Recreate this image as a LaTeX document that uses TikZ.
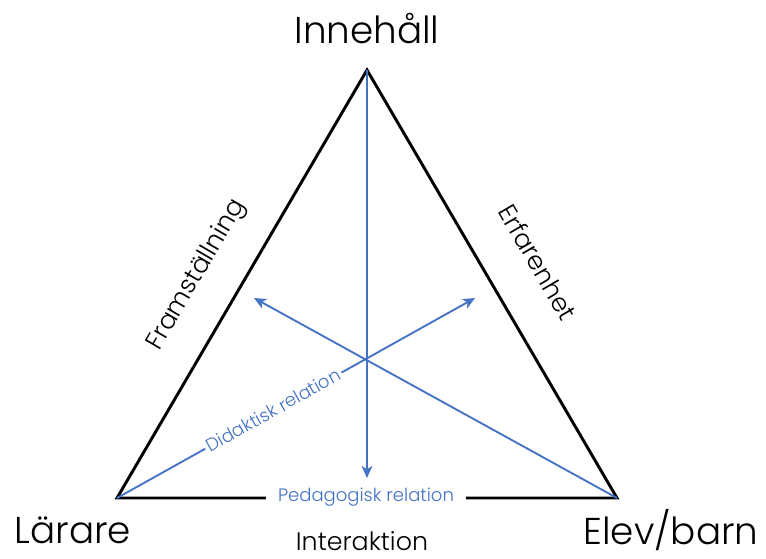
\documentclass[tikz,border=0pt]{standalone}
\usepackage{fontspec}
\setmainfont{Poppins Light}
\usetikzlibrary{arrows.meta}
\definecolor{relblue}{HTML}{4472C4}
\tikzset{
  edge/.style={line width=2.2pt, line join=miter},
  rel/.style={draw=relblue, line width=1.4pt, -{Stealth[length=9pt,width=8pt,inset=2.5pt]}},
  corner/.style={font=\fontsize{28}{32}\selectfont, inner sep=0pt, anchor=base},
  side/.style={font=\fontsize{19}{22}\selectfont, inner sep=0pt},
  rellabel/.style={text=relblue, fill=white, font=\fontsize{13.5}{16}\selectfont, inner sep=2pt},
}
\begin{document}
\begin{tikzpicture}[x=0.75pt,y=-0.75pt]
\useasboundingbox (0,0) rectangle (766,558);
\coordinate (T) at (367,70);
\coordinate (L) at (117,498);
\coordinate (R) at (617,498);
\coordinate (Vend) at (367,478);
\coordinate (Rend) at (475,298);
\coordinate (Lend) at (254,298);
\draw[edge] (L) -- (T) -- (R) -- cycle;
\draw[rel] (T) -- (Vend);
\draw[rel] (L) -- (Rend);
\draw[rel] (R) -- (Lend);
\node[rellabel, rotate=29.2] (did) at (273,410) {Didaktisk relation};
\node[rellabel, inner xsep=9pt] (ped) at (366,497) {Pedagogisk relation};
\node[corner] (inn) at (367,43) {Innehåll};
\node[corner] (lar) at (73,543) {Lärare};
\node[corner] (elev) at (671,544) {Elev/barn};
\node[side, anchor=base] (int) at (362,550) {Interaktion};
\node[side, rotate=59.7] (fram) at (197,275) {Framställning};
\node[side, rotate=-59.7] (erf) at (538,262) {Erfarenhet};
\end{tikzpicture}
\end{document}
